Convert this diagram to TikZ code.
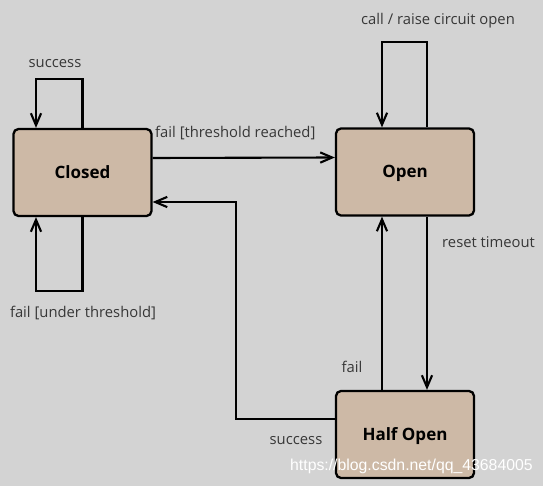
\documentclass[tikz,border=0pt]{standalone}
\usepackage{fontspec}
\setmainfont{Open Sans}
\newfontfamily\wmfont{Liberation Sans}
\usepackage{xcolor}
\usetikzlibrary{arrows.meta,positioning,calc}
\definecolor{bgcol}{RGB}{211,211,211}
\definecolor{boxcol}{RGB}{205,185,166}
\definecolor{txtcol}{RGB}{55,55,55}

\begin{document}
\begin{tikzpicture}[x=1pt,y=-1pt,
  st/.style={draw,line width=2.3pt,fill=boxcol,rounded corners=5pt,
    minimum width=138pt,minimum height=87pt,inner sep=0pt,text height=12pt,text depth=0pt,
    font=\fontsize{17}{19}\selectfont\bfseries},
  lbl/.style={text=txtcol,inner sep=0pt,font=\fontsize{14.8}{17}\selectfont},
  arr/.style={line width=2.1pt,-{Straight Barb[length=4.2mm,width=3.6mm,line width=2.1pt]}}]
 \fill[bgcol] (0,0) rectangle (543,486);
 \useasboundingbox (0,0) rectangle (543,486);
 % ---- states ----
 \node[st] (closed) at (82.5,172.5) {Closed};
 \node[st] (open) at (405,172) {Open};
 \node[st] (half) at (405,434.5) {Half Open};
 % ---- self loops ----
 \coordinate (s2) at (36,79);
 \coordinate (u2) at (36,291);
 \coordinate (o1) at (427,42);
 \coordinate (o2) at (382,42);
 \draw[arr] (closed.north) |- (s2) -- (s2 |- closed.north);
 \draw[arr] (closed.south) |- (u2) -- (u2 |- closed.south);
 \draw[arr] (o1 |- open.north) |- (o2) -- (o2 |- open.north);
 % ---- transitions ----
 \coordinate (bk) at (236,202);
 \draw[arr] ([yshift=14.5pt]closed.east) -- ([yshift=14.5pt]open.west);
 \draw[arr] ([yshift=15.5pt]half.west) -| (bk) -- (bk -| closed.east);
 \draw[arr] ([xshift=22pt]open.south) -- ([xshift=22pt]half.north);
 \draw[arr] ([xshift=-23pt]half.north) -- ([xshift=-23pt]open.south);
 % ---- labels ----
 \node[lbl] (l1) at (55,64) {success};
 \node[lbl] (l2) at (83,313) {fail [under threshold]};
 \node[lbl] (l3) at (438,21) {call / raise circuit open};
 \node[lbl,anchor=west] (l4) at (155,133) {fail [threshold reached]};
 \node[lbl,anchor=west] (l5) at (442,242) {reset timeout};
 \node[lbl] (l6) at (352,367) {fail};
 \node[lbl] (l7) at (296,441) {success};
 \node[inner sep=0pt,anchor=west,text=white,font=\wmfont\fontsize{15.8}{18}\selectfont] (wm) at (290,466) {https://blog.csdn.net/qq\_43684005};
\end{tikzpicture}
\end{document}
